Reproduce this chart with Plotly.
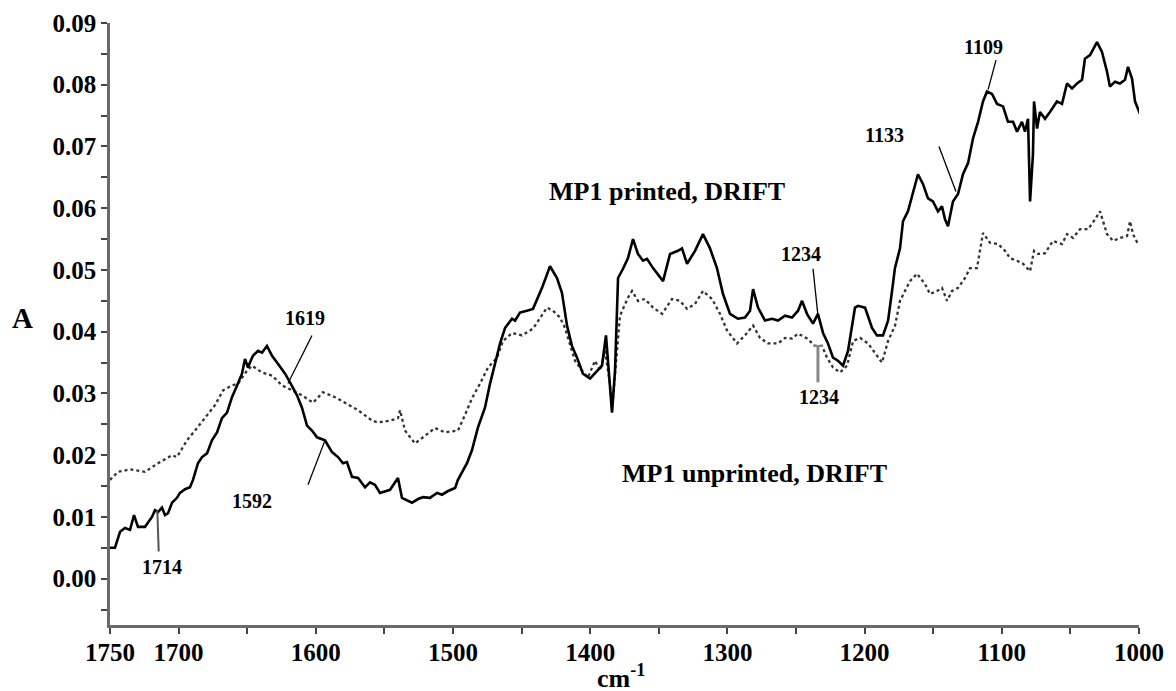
import plotly.graph_objects as go

# ---- data (wavenumber cm^-1, absorbance) ----
printed_wn = [1750, 1746.4, 1742.7, 1739.1, 1735.4, 1732.5, 1729.6, 1724.5, 1719.4, 1717.2, 1715.0, 1712.1,
              1709.9, 1707.7, 1704.8, 1701.2, 1699.0, 1695.3, 1691.7, 1689.5, 1685.9, 1682.9, 1679.3, 1675.7,
              1672.0, 1668.4, 1664.7, 1661.1, 1657.4, 1653.8, 1651.6, 1649.4, 1648.0, 1645.8, 1642.1, 1639.2,
              1635.6, 1631.9, 1627.6, 1622.4, 1618.8, 1613.7, 1610.1, 1606.4, 1602.8, 1599.1, 1593.3, 1588.2,
              1583.8, 1580.2, 1577.3, 1573.6, 1569.2, 1564.1, 1560.5, 1556.9, 1553.2, 1545.9, 1540.1, 1537.2,
              1529.9, 1525.5, 1521.9, 1516.8, 1511.6, 1508.0, 1503.6, 1498.5, 1496.4, 1489.8, 1486.2, 1481.8,
              1476.7, 1473.0, 1469.4,
              1465.7, 1462.1, 1457.0, 1454.8, 1451.2, 1446.1, 1441.7, 1435.1, 1429.3, 1424.2, 1420.6, 1416.9,
              1413.3, 1409.6, 1405.3, 1400.1, 1395.0, 1391.4, 1388.5, 1385.6, 1384.1, 1381.9, 1379.7, 1376.1,
              1372.5, 1368.8, 1365.2, 1361.5, 1358.6, 1354.2, 1346.9, 1341.8, 1336.0, 1333.1, 1329.4, 1323.6,
              1317.8, 1312.7, 1307.6, 1303.2, 1298.1, 1292.3, 1287.2, 1283.5, 1281.3, 1277.7, 1272.6, 1267.5,
              1263.1, 1258.0, 1252.9, 1248.5, 1245.6, 1242.0, 1237.6, 1234.0, 1230.3, 1226.7, 1223.0, 1219.4,
              1215.7, 1212.1, 1207.0, 1204.8, 1199.7, 1194.6, 1191.0, 1186.6, 1182.9, 1180.0, 1177.9, 1174.2,
              1172.0, 1168.4, 1164.7, 1161.1, 1157.4, 1153.8, 1150.2, 1146.5, 1143.6, 1141.4, 1139.2, 1135.6,
              1131.9, 1128.3, 1124.6, 1121.0, 1117.3, 1113.7, 1110.8, 1107.1, 1103.5, 1099.1, 1095.5, 1091.8,
              1088.9, 1085.3, 1083.1, 1080.9, 1079.4, 1077.3, 1076.5, 1074.3, 1072.2, 1068.5, 1064.9, 1059.8,
              1056.1, 1052.5, 1048.8, 1045.2, 1041.5, 1039.4, 1035.7, 1030.6, 1027.0, 1023.3, 1021.2, 1017.5,
              1013.9, 1010.2, 1008.0, 1005.1, 1002.9, 999.3]
printed_abs = [0.0050, 0.0050, 0.0076, 0.0082, 0.0079, 0.0103, 0.0084, 0.0084, 0.0100, 0.0111, 0.0108, 0.0115,
               0.0103, 0.0106, 0.0123, 0.0131, 0.0139, 0.0145, 0.0148, 0.0160, 0.0187, 0.0197, 0.0203, 0.0224,
               0.0237, 0.0260, 0.0269, 0.0294, 0.0313, 0.0332, 0.0356, 0.0342, 0.0350, 0.0361, 0.0369, 0.0366,
               0.0377, 0.0361, 0.0348, 0.0332, 0.0318, 0.0297, 0.0277, 0.0248, 0.0240, 0.0229, 0.0224, 0.0205,
               0.0197, 0.0187, 0.0189, 0.0165, 0.0163, 0.0148, 0.0156, 0.0152, 0.0139, 0.0144, 0.0163, 0.0131,
               0.0123, 0.0129, 0.0132, 0.0131, 0.0139, 0.0136, 0.0142, 0.0147, 0.0160, 0.0187, 0.0208, 0.0245,
               0.0277, 0.0316, 0.0348,
               0.0381, 0.0406, 0.0421, 0.0418, 0.0431, 0.0434, 0.0437, 0.0471, 0.0506, 0.0487, 0.0463, 0.0410,
               0.0377, 0.0358, 0.0332, 0.0324, 0.0337, 0.0345, 0.0394, 0.0305, 0.0269, 0.0337, 0.0487, 0.0502,
               0.0519, 0.0550, 0.0526, 0.0515, 0.0518, 0.0503, 0.0482, 0.0526, 0.0531, 0.0535, 0.0510, 0.0531,
               0.0558, 0.0535, 0.0503, 0.0461, 0.0429, 0.0421, 0.0423, 0.0434, 0.0469, 0.0439, 0.0418, 0.0421,
               0.0418, 0.0426, 0.0423, 0.0434, 0.0450, 0.0429, 0.0413, 0.0429, 0.0398, 0.0381, 0.0358, 0.0353,
               0.0345, 0.0369, 0.0439, 0.0442, 0.0439, 0.0406, 0.0394, 0.0394, 0.0418, 0.0466, 0.0503, 0.0535,
               0.0579, 0.0595, 0.0627, 0.0655, 0.0639, 0.0616, 0.0611, 0.0595, 0.0603, 0.0582, 0.0571, 0.0611,
               0.0623, 0.0655, 0.0673, 0.0713, 0.0740, 0.0773, 0.0789, 0.0785, 0.0769, 0.0765, 0.0740, 0.0740,
               0.0724, 0.0740, 0.0724, 0.0745, 0.0611, 0.0687, 0.0773, 0.0729, 0.0756, 0.0745, 0.0756, 0.0773,
               0.0769, 0.0802, 0.0794, 0.0802, 0.0808, 0.0842, 0.0848, 0.0869, 0.0853, 0.0821, 0.0797, 0.0805,
               0.0802, 0.0808, 0.0829, 0.0810, 0.0773, 0.0753]

unprinted_wn = [1750, 1744.2, 1735.4, 1724.5, 1715.0, 1704.8, 1701.2, 1693.9, 1686.6, 1680.8, 1673.5, 1667.6,
                1661.1, 1656.7, 1650.1, 1646.5, 1639.2, 1631.9, 1624.6, 1617.3, 1610.1, 1602.0, 1594.8, 1586.0,
                1578.7, 1569.2, 1559.0, 1554.7, 1545.9, 1540.1, 1538.6, 1535.0, 1527.7, 1520.4, 1513.1, 1505.8,
                1496.4, 1491.3, 1486.2, 1480.3, 1474.5, 1467.9, 1463.6, 1457.0, 1449.7, 1441.7, 1436.6, 1431.5,
                1427.1, 1422.0, 1418.4, 1414.7, 1411.1, 1406.0, 1401.6, 1396.5, 1392.8, 1389.2, 1385.6, 1384.1,
                1380.5, 1378.3, 1372.5, 1369.5, 1365.2, 1360.1, 1354.2, 1347.6, 1340.4, 1334.5, 1329.4, 1323.6,
                1317.8, 1311.2, 1305.4, 1300.3, 1293.0, 1287.2, 1281.3, 1276.2, 1270.4, 1263.1, 1258.0, 1252.9,
                1248.5, 1242.0, 1236.1, 1231.0, 1227.4, 1223.0, 1217.9, 1212.8, 1208.4, 1203.3, 1197.5, 1192.4,
                1187.3, 1182.9, 1177.8, 1174.2, 1166.9, 1161.8, 1155.9, 1152.3, 1147.2, 1143.6, 1139.9, 1136.3,
                1131.9, 1126.8, 1123.2, 1118.1, 1113.7, 1108.6, 1102.7, 1097.6, 1094.0, 1088.9, 1084.5, 1079.4,
                1076.5, 1073.6, 1068.5, 1062.7, 1056.1, 1052.5, 1048.1, 1043.0, 1037.1, 1032.0, 1028.4, 1023.3,
                1018.9, 1013.9, 1008.7, 1006.5, 1004.4, 1000.7]
unprinted_abs = [0.0160, 0.0173, 0.0177, 0.0173, 0.0187, 0.0200, 0.0197, 0.0224, 0.0244, 0.0260, 0.0281, 0.0305,
                 0.0313, 0.0316, 0.0337, 0.0345, 0.0334, 0.0329, 0.0313, 0.0305, 0.0297, 0.0285, 0.0302, 0.0294,
                 0.0285, 0.0273, 0.0256, 0.0253, 0.0256, 0.0260, 0.0273, 0.0240, 0.0219, 0.0232, 0.0244, 0.0237,
                 0.0240, 0.0265, 0.0292, 0.0316, 0.0342, 0.0358, 0.0385, 0.0398, 0.0394, 0.0405, 0.0423, 0.0439,
                 0.0434, 0.0423, 0.0406, 0.0377, 0.0353, 0.0337, 0.0326, 0.0353, 0.0337, 0.0369, 0.0316, 0.0273,
                 0.0369, 0.0426, 0.0455, 0.0466, 0.0450, 0.0453, 0.0439, 0.0429, 0.0453, 0.0450, 0.0437, 0.0445,
                 0.0466, 0.0453, 0.0429, 0.0402, 0.0381, 0.0394, 0.0410, 0.0390, 0.0381, 0.0381, 0.0390, 0.0389,
                 0.0397, 0.0389, 0.0377, 0.0377, 0.0358, 0.0342, 0.0334, 0.0345, 0.0385, 0.0390, 0.0381, 0.0365,
                 0.0350, 0.0385, 0.0410, 0.0450, 0.0482, 0.0494, 0.0477, 0.0461, 0.0466, 0.0471, 0.0450, 0.0466,
                 0.0471, 0.0487, 0.0503, 0.0503, 0.0560, 0.0544, 0.0542, 0.0531, 0.0519, 0.0515, 0.0510, 0.0498,
                 0.0531, 0.0526, 0.0527, 0.0547, 0.0542, 0.0558, 0.0552, 0.0566, 0.0566, 0.0582, 0.0595, 0.0558,
                 0.0547, 0.0552, 0.0555, 0.0579, 0.0558, 0.0542]

# x-axis ticks
x_tick_vals = [1750, 1700, 1650, 1600, 1550, 1500, 1450, 1400, 1350, 1300, 1250, 1200, 1150, 1100, 1050, 1000]
x_tick_text = ["1750", "1700", "", "1600", "", "1500", "", "1400", "", "1300", "", "1200", "", "1100", "", "1000"]
y_tick_vals = [0.00, 0.01, 0.02, 0.03, 0.04, 0.05, 0.06, 0.07, 0.08, 0.09]
y_minor_vals = [-0.005, 0.005, 0.015, 0.025, 0.035, 0.045, 0.055, 0.065, 0.075, 0.085]

# peak labels: text, text position, pointer line (x0, y0, x1, y1), colour, width
peak_text = ["1619", "1592", "1714", "1234", "1234", "1133", "1109"]
peak_tx = [1607.9, 1646.5, 1712.1, 1246.3, 1233.2, 1185.8, 1113.0]
peak_ty = [0.0423, 0.0126, 0.0019, 0.0526, 0.0295, 0.0719, 0.0861]
ptr_x0 = [1602.8, 1605.7, 1715.5, 1237.6, 1234.0, 1145.8, 1104.2]
ptr_y0 = [0.0394, 0.0152, 0.0110, 0.0502, 0.0377, 0.0700, 0.0840]
ptr_x1 = [1620.3, 1593.3, 1714.5, 1234.0, 1234.0, 1133.4, 1110.0]
ptr_y1 = [0.0316, 0.0224, 0.0044, 0.0426, 0.0318, 0.0627, 0.0792]
ptr_color = ["black", "black", "#555555", "black", "#888888", "black", "black"]
ptr_width = [1.3, 1.3, 2, 1.3, 3, 1.3, 1.3]

series_text = ["MP1 printed, DRIFT", "MP1 unprinted, DRIFT"]
series_tx = [1344.0, 1279.9]
series_ty = [0.0627, 0.0171]

FONT = "Liberation Serif"

fig = go.Figure()
fig.add_trace(go.Scatter(x=unprinted_wn, y=unprinted_abs, mode="lines",
                         line=dict(color="#333333", width=2.3, dash="dot"), showlegend=False))
fig.add_trace(go.Scatter(x=printed_wn, y=printed_abs, mode="lines",
                         line=dict(color="black", width=2.6), showlegend=False))

for i in range(len(peak_text)):
    fig.add_shape(type="line", xref="x", yref="y", x0=ptr_x0[i], y0=ptr_y0[i], x1=ptr_x1[i], y1=ptr_y1[i],
                  line=dict(color=ptr_color[i], width=ptr_width[i]))
    fig.add_annotation(x=peak_tx[i], y=peak_ty[i], xref="x", yref="y", text="<b>%s</b>" % peak_text[i],
                       showarrow=False, font=dict(family=FONT, size=20, color="black"))
# small cap on the lower 1234 pointer
fig.add_shape(type="line", xref="x", yref="y", x0=1237.5, x1=1230.5, y0=0.0377, y1=0.0377,
              line=dict(color="#888888", width=2))

for i in range(len(series_text)):
    fig.add_annotation(x=series_tx[i], y=series_ty[i], xref="x", yref="y", text="<b>%s</b>" % series_text[i],
                       showarrow=False, font=dict(family=FONT, size=26, color="black"))

# axis titles
fig.add_annotation(x=0, y=(625 - 318) / 602, xref="paper", yref="paper", text="<b>A</b>", showarrow=False,
                   xshift=-88, xanchor="center", yanchor="middle",
                   font=dict(family=FONT, size=29, color="black"))
fig.add_annotation(x=0.5, y=0, xref="paper", yref="paper", text="<b>cm<sup>-1</sup></b>", showarrow=False,
                   xanchor="center", yanchor="middle", yshift=-51, xshift=-4,
                   font=dict(family=FONT, size=26, color="black"))

fig.update_layout(
    width=1176, height=691,
    margin=dict(l=102, r=45, t=15, b=74),
    paper_bgcolor="white", plot_bgcolor="white",
    xaxis=dict(range=[1750, 1000], tickvals=x_tick_vals, ticktext=x_tick_text,
               ticks="outside", ticklen=6, tickwidth=2, tickcolor="#444", ticklabelstandoff=-3,
               showline=True, linecolor="#6a6a6a", linewidth=2.5, showgrid=False, zeroline=False,
               tickfont=dict(family=FONT, size=25, color="black", weight="bold"), automargin=False),
    yaxis=dict(range=[-0.0075, 0.09], tickvals=y_tick_vals, tickformat=".2f",
               ticks="outside", ticklen=6, tickwidth=2, tickcolor="#444",
               minor=dict(tickvals=y_minor_vals, ticks="outside", ticklen=6, tickwidth=2, tickcolor="#444"),
               showline=True, linecolor="#6a6a6a", linewidth=2.5, showgrid=False, zeroline=False,
               tickfont=dict(family=FONT, size=25, color="black", weight="bold"), automargin=False),
)

fig.write_html("out.html")
